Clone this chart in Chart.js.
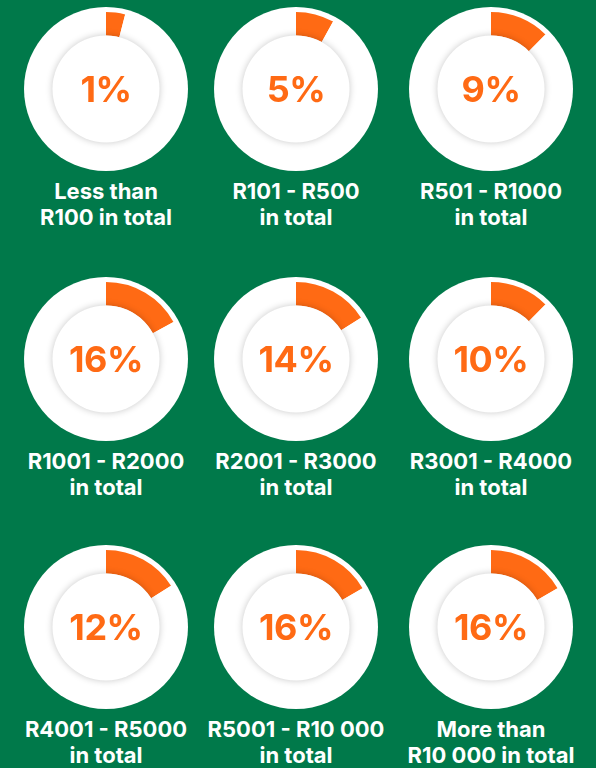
<!DOCTYPE html>
<html>
<head>
<meta charset="utf-8">
<script src="https://cdn.jsdelivr.net/npm/chart.js@4"></script>
<style>
  html, body { margin: 0; padding: 0; }
  body {
    width: 596px; height: 768px; overflow: hidden;
    background: #00794a; position: relative;
    font-family: Inter, "Noto Sans", sans-serif;
  }
  .cell { position: absolute; width: 200px; }
  .disc {
    position: relative; width: 164px; height: 164px; margin: 0 auto;
    border-radius: 50%; background: #fff;
  }
  .disc canvas { position: absolute; left: 0; top: 0; }
  .pct {
    position: absolute; left: 0; right: 0; top: 0; height: 164px;
    line-height: 164px; text-align: center;
    color: #ff6a14; font-weight: 700; font-size: 36px; letter-spacing: -0.5px;
  }
  .label {
    margin-top: 7px; text-align: center; color: #fff;
    font-weight: 700; font-size: 22px; line-height: 26px; white-space: nowrap;
  }
</style>
</head>
<body>
<script>
// Spend brackets and share of respondents (%)
const categories = [
  ['Less than', 'R100 in total'],
  ['R101 - R500', 'in total'],
  ['R501 - R1000', 'in total'],
  ['R1001 - R2000', 'in total'],
  ['R2001 - R3000', 'in total'],
  ['R3001 - R4000', 'in total'],
  ['R4001 - R5000', 'in total'],
  ['R5001 - R10 000', 'in total'],
  ['More than', 'R10 000 in total']
];
// printed percentages
const shares = [1, 5, 9, 16, 14, 10, 12, 16, 16];
const arcValues = [4, 8, 12.5, 17, 16, 12.5, 16, 16.6, 16.6];

const ORANGE = '#ff6a14';
const colX = [106, 296, 491];
const rowY = [89, 359, 627];

// white inner disc with a soft shadow, drawn over the ring's inner edge
const innerDisc = {
  id: 'innerDisc',
  afterDatasetsDraw(chart) {
    const arc = chart.getDatasetMeta(0).data[0];
    if (!arc) return;
    const ctx = chart.ctx;
    ctx.save();
    ctx.shadowColor = 'rgba(0,0,0,0.22)';
    ctx.shadowBlur = 7;
    ctx.beginPath();
    ctx.arc(arc.x, arc.y, arc.innerRadius, 0, Math.PI * 2);
    ctx.fillStyle = '#fff';
    ctx.fill();
    ctx.restore();
  }
};

shares.forEach((v, i) => {
  const cell = document.createElement('div');
  cell.className = 'cell';
  cell.style.left = (colX[i % 3] - 100) + 'px';
  cell.style.top = (rowY[Math.floor(i / 3)] - 82) + 'px';

  const disc = document.createElement('div');
  disc.className = 'disc';
  const canvas = document.createElement('canvas');
  canvas.width = 164;
  canvas.height = 164;
  disc.appendChild(canvas);
  const pct = document.createElement('div');
  pct.className = 'pct';
  pct.textContent = v + '%';
  disc.appendChild(pct);
  cell.appendChild(disc);

  const label = document.createElement('div');
  label.className = 'label';
  label.innerHTML = categories[i].join('<br>');
  cell.appendChild(label);
  document.body.appendChild(cell);

  new Chart(canvas, {
    type: 'doughnut',
    data: {
      labels: ['share', 'rest'],
      datasets: [{
        data: [arcValues[i], 100 - arcValues[i]],
        backgroundColor: [ORANGE, '#ffffff'],
        borderWidth: 0
      }]
    },
    options: {
      responsive: false,
      animation: false,
      radius: 77,
      cutout: 57,
      events: [],
      plugins: {
        legend: { display: false },
        tooltip: { enabled: false }
      }
    },
    plugins: [innerDisc]
  });
});
</script>
</body>
</html>
